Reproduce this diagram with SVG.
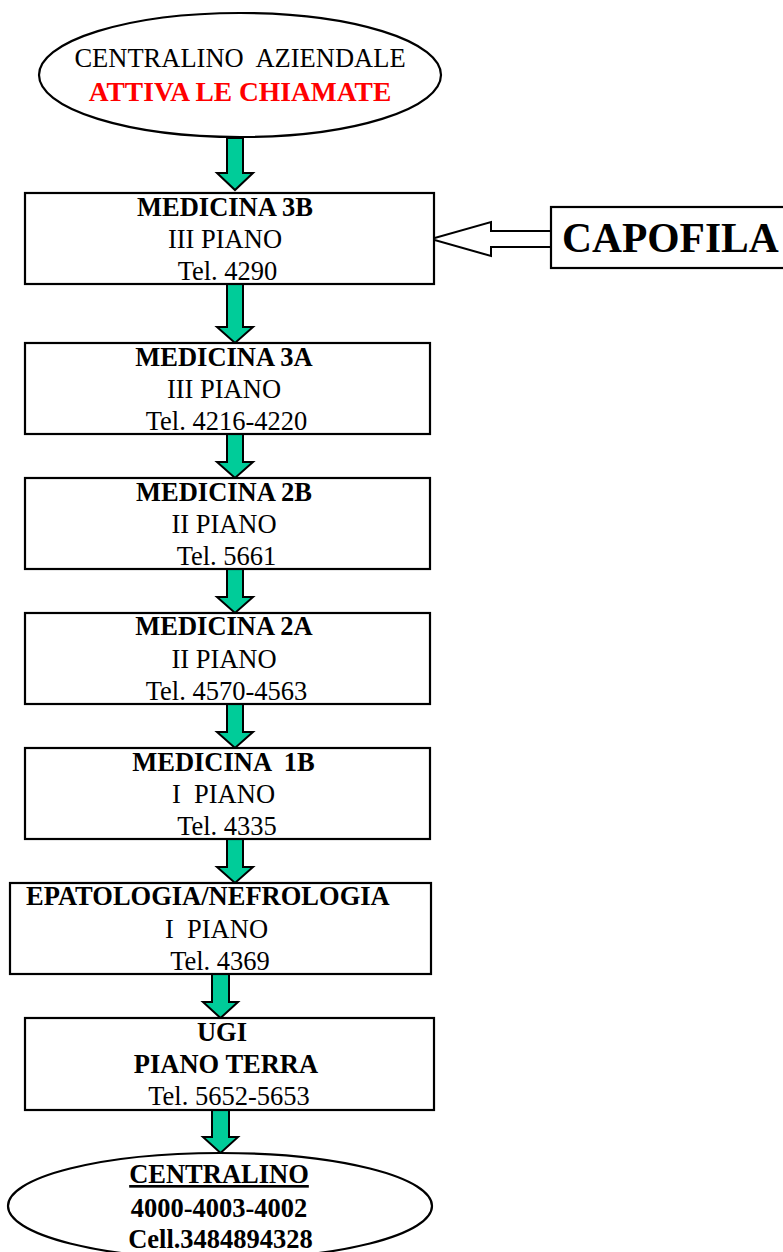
<svg xmlns="http://www.w3.org/2000/svg" width="783" height="1252" viewBox="0 0 783 1252">
<style>
.shape{fill:#fff;stroke:#000;stroke-width:2.2}
.arr{fill:#00CC99;stroke:#000;stroke-width:2;stroke-linejoin:miter}
.hollow{fill:#fff;stroke:#000;stroke-width:2}
text{font-family:"Liberation Serif","Times New Roman",serif;font-size:26.5px;fill:#000}
.b{font-weight:bold}
.m{text-anchor:middle}
.red{fill:#FF0000}
</style>
<rect width="783" height="1252" fill="#fff"/>
<g id="connectors">
<path class="arr" d="M227,138 L243,138 L243,173 L253,173 L235,190 L217,173 L227,173 Z"/>
<path class="arr" d="M227,284 L243,284 L243,327 L253,327 L235,343 L217,327 L227,327 Z"/>
<path class="arr" d="M227,434 L243,434 L243,462 L253,462 L235,478 L217,462 L227,462 Z"/>
<path class="arr" d="M227,569 L243,569 L243,597 L253,597 L235,613 L217,597 L227,597 Z"/>
<path class="arr" d="M227,704 L243,704 L243,732 L253,732 L235,748 L217,732 L227,732 Z"/>
<path class="arr" d="M227,839 L243,839 L243,867 L253,867 L235,883 L217,867 L227,867 Z"/>
<path class="arr" d="M212,974 L229,974 L229,1002 L238,1002 L220.5,1018 L203,1002 L212,1002 Z"/>
<path class="arr" d="M212,1110 L229,1110 L229,1137 L238,1137 L220.5,1153 L203,1137 L212,1137 Z"/>
<path class="hollow" d="M551,231 L491,231 L491,222 L431,239 L491,256 L491,247 L551,247"/>
</g>
<g id="start">
<ellipse class="shape" cx="240" cy="75" rx="201" ry="62"/>
<text class="m" x="240" y="67" xml:space="preserve">CENTRALINO  AZIENDALE</text>
<text class="m b red" x="240" y="101" style="font-size:27.5px">ATTIVA LE CHIAMATE</text>
</g>
<g id="capofila">
<rect class="shape" x="551" y="207" width="250" height="61"/>
<text class="b" x="562" y="252" style="font-size:41.5px">CAPOFILA</text>
</g>
<g id="med3b">
<rect class="shape" x="25" y="193" width="409" height="91"/>
<text class="m b" x="225" y="216">MEDICINA 3B</text>
<text class="m" x="225" y="248">III PIANO</text>
<text class="m" x="227.5" y="280">Tel. 4290</text>
</g>
<g id="med3a">
<rect class="shape" x="25" y="343" width="405" height="91"/>
<text class="m b" x="224" y="366">MEDICINA 3A</text>
<text class="m" x="224" y="398">III PIANO</text>
<text class="m" x="226.5" y="430">Tel. 4216-4220</text>
</g>
<g id="med2b">
<rect class="shape" x="25" y="478" width="405" height="91"/>
<text class="m b" x="224" y="501">MEDICINA 2B</text>
<text class="m" x="224" y="533">II PIANO</text>
<text class="m" x="226.5" y="565">Tel. 5661</text>
</g>
<g id="med2a">
<rect class="shape" x="25" y="613" width="405" height="91"/>
<text class="m b" x="224" y="635">MEDICINA 2A</text>
<text class="m" x="224" y="668">II PIANO</text>
<text class="m" x="226.5" y="700">Tel. 4570-4563</text>
</g>
<g id="med1b">
<rect class="shape" x="25" y="748" width="405" height="91"/>
<text class="m b" x="223.5" y="771" xml:space="preserve">MEDICINA  1B</text>
<text class="m" x="223.5" y="803" xml:space="preserve">I  PIANO</text>
<text class="m" x="227" y="835">Tel. 4335</text>
</g>
<g id="epatologia">
<rect class="shape" x="10" y="883" width="421" height="91"/>
<text class="b" x="26" y="905">EPATOLOGIA/NEFROLOGIA</text>
<text class="m" x="216.5" y="938" xml:space="preserve">I  PIANO</text>
<text class="m" x="220" y="970">Tel. 4369</text>
</g>
<g id="ugi">
<rect class="shape" x="25" y="1018" width="409" height="92"/>
<text class="m b" x="222" y="1041">UGI</text>
<text class="m b" x="226" y="1073">PIANO TERRA</text>
<text class="m" x="229" y="1105">Tel. 5652-5653</text>
</g>
<g id="end">
<ellipse class="shape" cx="220" cy="1206" rx="212" ry="53"/>
<text class="m b" x="219" y="1183" text-decoration="underline">CENTRALINO</text>
<text class="m b" x="219" y="1217">4000-4003-4002</text>
<text class="m b" x="220.5" y="1248">Cell.3484894328</text>
</g>
</svg>
